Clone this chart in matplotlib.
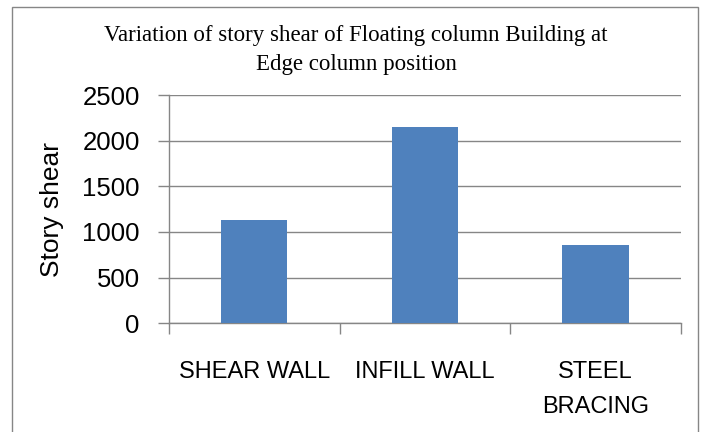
import matplotlib
matplotlib.use("Agg")
import matplotlib.pyplot as plt
from matplotlib.patches import Rectangle

categories = ["SHEAR WALL", "INFILL WALL", "STEEL\nBRACING"]
values = [1125, 2145, 860]
yticks = [0, 500, 1000, 1500, 2000, 2500]
title = "Variation of story shear of Floating column Building at\nEdge column position"
ylabel = "Story shear"

sans = ["Liberation Sans", "DejaVu Sans"]
serif = ["Liberation Serif", "DejaVu Serif"]

fig = plt.figure(figsize=(7.01, 4.32), dpi=100)
fig.patch.set_facecolor("white")
fig.patches.append(Rectangle((12/701, -0.1), (698-12)/701, 1 - 7/432 + 0.1,
                             transform=fig.transFigure, fill=False,
                             edgecolor="#868686", linewidth=1.0))

ax = fig.add_axes([0.241, 0.252, 0.730, 0.528])
x = list(range(len(categories)))
ax.bar(x, values, width=0.39, color="#4F81BD", zorder=3)
ax.set_xlim(-0.5, len(categories) - 0.5)
ax.set_ylim(0, 2500)
ax.set_yticks(yticks)
ax.set_yticklabels([str(v) for v in yticks], family=sans, fontsize=18.5)
ax.yaxis.grid(True, color="#868686", linewidth=1.0, zorder=0)
ax.tick_params(axis="y", length=8, color="#868686", width=1.0, pad=13)

ax.set_xticks([i - 0.5 for i in range(len(categories) + 1)])
ax.set_xticklabels([])
ax.tick_params(axis="x", which="major", length=8, color="#868686", width=1.0)
ax.set_xticks(x, minor=True)
ax.set_xticklabels(categories, minor=True, family=sans, fontsize=17,
                   linespacing=1.8, va="top")
ax.tick_params(axis="x", which="minor", length=0, pad=27)

for s in ["top", "right"]:
    ax.spines[s].set_visible(False)
for s in ["left", "bottom"]:
    ax.spines[s].set_color("#868686")
    ax.spines[s].set_linewidth(1.0)

ax.set_ylabel(ylabel, family=sans, fontsize=19)
ax.yaxis.set_label_coords((52 - 169) / 512, (323 - 209) / 228)
ax.yaxis.label.set_va("center")

fig.text(356/701, 1 - 50/432, title, family=serif, fontsize=16.5,
         ha="center", va="center", linespacing=1.45)

fig.savefig("out.png", dpi=100, facecolor="white")
